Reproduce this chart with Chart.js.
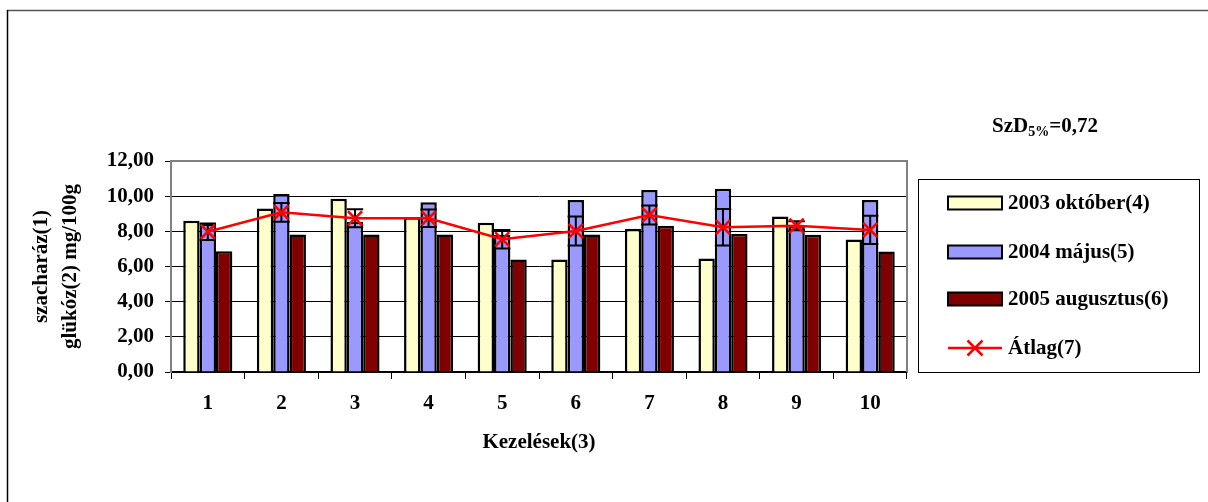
<!DOCTYPE html>
<html><head><meta charset="utf-8">
<script src="https://cdn.jsdelivr.net/npm/chart.js@4.4.1/dist/chart.umd.min.js"></script>
<style>html,body{margin:0;padding:0;background:#fff;}#wrap{width:1208px;height:502px;position:relative;}</style>
</head><body><div id="wrap"><canvas id="c" width="1208" height="502"></canvas></div>
<script>
const categories = ['1','2','3','4','5','6','7','8','9','10'];
const oct2003 = [8.60, 9.30, 9.85, 8.80, 8.49, 6.40, 8.15, 6.45, 8.85, 7.54];
const maj2004 = [8.41, 10.13, 8.55, 9.65, 7.80, 9.78, 10.35, 10.42, 8.30, 9.78];
const aug2005 = [6.87, 7.82, 7.82, 7.82, 6.40, 7.82, 8.32, 7.85, 7.80, 6.85];
const atlag = [7.98, 9.08, 8.74, 8.74, 7.55, 8.02, 8.93, 8.23, 8.32, 8.08];
const atlagErr = [0.47, 0.53, 0.51, 0.50, 0.53, 0.83, 0.54, 1.04, 0.26, 0.80];
const seriesNames = ['2003 október(4)', '2004 május(5)', '2005 augusztus(6)', 'Átlag(7)'];
const yTicks = [0, 2, 4, 6, 8, 10, 12];
const xTitle = 'Kezelések(3)';
const yTitle = ['szacharáz(1)', 'glükóz(2) mg/100g'];

const FONT = '"Liberation Serif", "Times New Roman", serif';

const errorBars = {
  id: 'errorBars',
  afterDatasetDraw(chart, args) {
    if (args.index !== 1) return;
    const meta = chart.getDatasetMeta(1);
    const y = chart.scales.y;
    const ctx = chart.ctx;
    ctx.save();
    ctx.strokeStyle = '#000';
    ctx.lineWidth = 2;
    meta.data.forEach((bar, i) => {
      const x = bar.x;
      const hw = bar.width / 2;
      const hi = y.getPixelForValue(atlag[i] + atlagErr[i]);
      const lo = y.getPixelForValue(atlag[i] - atlagErr[i]);
      ctx.beginPath();
      ctx.moveTo(x, hi); ctx.lineTo(x, lo);
      ctx.moveTo(x - hw, hi); ctx.lineTo(x + hw, hi);
      ctx.moveTo(x - hw, lo); ctx.lineTo(x + hw, lo);
      ctx.stroke();
    });
    ctx.restore();
  }
};

const decor = {
  id: 'decor',
  afterDraw(chart) {
    const ctx = chart.ctx;
    const a = chart.chartArea;
    ctx.save();
    ctx.strokeStyle = '#808080';
    ctx.lineWidth = 2;
    ctx.beginPath();
    ctx.moveTo(a.left, a.top); ctx.lineTo(a.right, a.top); ctx.lineTo(a.right, a.bottom);
    ctx.stroke();
    ctx.strokeStyle = '#555';
    ctx.lineWidth = 1.5;
    ctx.beginPath(); ctx.moveTo(7, 10.5); ctx.lineTo(1208, 10.5); ctx.stroke();
    ctx.strokeStyle = '#000';
    ctx.beginPath(); ctx.moveTo(7.5, 10); ctx.lineTo(7.5, 502); ctx.stroke();
    ctx.lineWidth = 1;
    ctx.strokeStyle = '#000';
    ctx.strokeRect(918.5, 179.5, 281, 193);
    const ys = [203, 252, 299, 348];
    ctx.font = 'bold 21px ' + FONT;
    ctx.textBaseline = 'middle';
    ctx.textAlign = 'left';
    chart.data.datasets.forEach((ds, i) => {
      const cy = ys[i];
      if (ds.type === 'line') {
        ctx.strokeStyle = ds.borderColor;
        ctx.lineWidth = 2.5;
        ctx.beginPath(); ctx.moveTo(948, cy); ctx.lineTo(1002, cy); ctx.stroke();
        ctx.beginPath();
        ctx.moveTo(975 - 7.5, cy - 7.5); ctx.lineTo(975 + 7.5, cy + 7.5);
        ctx.moveTo(975 - 7.5, cy + 7.5); ctx.lineTo(975 + 7.5, cy - 7.5);
        ctx.stroke();
      } else {
        ctx.fillStyle = ds.backgroundColor;
        ctx.fillRect(948, cy - 6.5, 54, 13);
        ctx.strokeStyle = '#000';
        ctx.lineWidth = 2;
        ctx.strokeRect(948, cy - 6.5, 54, 13);
      }
      ctx.fillStyle = '#000';
      ctx.fillText(ds.label, 1008, cy + 1);
    });
    ctx.fillStyle = '#000';
    ctx.textBaseline = 'alphabetic';
    let x = 992;
    const base = 132;
    ctx.font = 'bold 21px ' + FONT;
    ctx.fillText('SzD', x, base); x += ctx.measureText('SzD').width;
    ctx.font = 'bold 14px ' + FONT;
    ctx.fillText('5%', x, base + 4); x += ctx.measureText('5%').width;
    ctx.font = 'bold 21px ' + FONT;
    ctx.fillText('=0,72', x, base);
    ctx.restore();
  }
};

new Chart(document.getElementById('c'), {
  type: 'bar',
  data: {
    labels: categories,
    datasets: [
      { label: seriesNames[0], data: oct2003, backgroundColor: '#FFFFCC', borderColor: '#000', borderWidth: 2.5, order: 1 },
      { label: seriesNames[1], data: maj2004, backgroundColor: '#9999FF', borderColor: '#000', borderWidth: 2.5, order: 1 },
      { label: seriesNames[2], data: aug2005, backgroundColor: '#800000', borderColor: '#000', borderWidth: 2.5, order: 1 },
      { type: 'line', label: seriesNames[3], data: atlag, borderColor: '#FF0000', backgroundColor: '#FF0000',
        borderWidth: 2.5, pointStyle: 'crossRot', pointRadius: 10, pointBorderWidth: 2.5,
        pointBorderColor: '#FF0000', tension: 0, fill: false, order: -1 }
    ]
  },
  options: {
    responsive: false,
    animation: false,
    devicePixelRatio: 1,
    layout: { padding: { left: 0, top: 161, right: 301, bottom: 40 } },
    datasets: { bar: { categoryPercentage: 0.667, barPercentage: 1.0 } },
    plugins: { legend: { display: false }, tooltip: { enabled: false }, title: { display: false } },
    scales: {
      x: {
        offset: true,
        grid: { offset: true, drawOnChartArea: false, color: '#000', tickLength: 7, tickWidth: 1 },
        border: { color: '#000', width: 1.5 },
        ticks: { color: '#000', padding: 12, font: { family: FONT, size: 21, weight: 'bold' } },
        title: { display: true, text: xTitle, color: '#000', padding: { top: 0, bottom: 7 },
          font: { family: FONT, size: 21, weight: 'bold' } },
        afterFit(s) { s.height = 90; }
      },
      y: {
        min: 0, max: 12,
        afterBuildTicks(s) { s.ticks = yTicks.map(v => ({ value: v })); },
        grid: { color: '#000', lineWidth: 1, tickLength: 6, tickColor: '#000' },
        border: { color: '#808080', width: 2 },
        ticks: { color: '#000', padding: 11, font: { family: FONT, size: 21, weight: 'bold' },
          callback: v => Number(v).toFixed(2).replace('.', ',') },
        title: { display: true, text: yTitle, color: '#000', padding: { top: 27, bottom: 0 },
          font: { family: FONT, size: 21, weight: 'bold', lineHeight: 1.38 } },
        afterFit(s) { s.width = 171; }
      }
    }
  },
  plugins: [errorBars, decor]
});
</script></body></html>
